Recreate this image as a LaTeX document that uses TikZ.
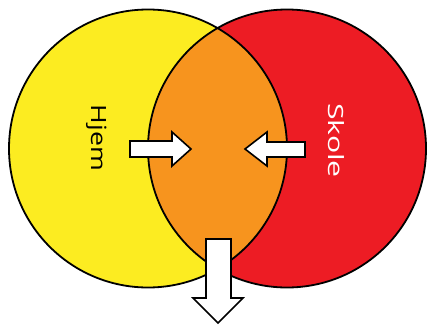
\documentclass[tikz,border=0pt]{standalone}
\usepackage{fontspec}
\setmainfont{Open Sans}
\definecolor{venyellow}{HTML}{FCEC21}
\definecolor{venred}{HTML}{ED1C24}
\definecolor{venorange}{HTML}{F7941E}
\begin{document}
\begin{tikzpicture}[x=1pt,y=-1pt,
  outline/.style={draw=black,line width=1.8pt},
  blockarrow/.style={fill=white,draw=black,line width=1.6pt,line join=miter},
  vlabel/.style={font=\fontsize{21}{21}\selectfont,rotate=-90,anchor=base,inner sep=0pt}]
\useasboundingbox (0,0) rectangle (427,324);
\coordinate (L) at (148,148.5);
\coordinate (R) at (287,148.5);
\fill[venyellow] (L) circle[radius=139];
\fill[venred] (R) circle[radius=139];
\begin{scope}
  \clip (L) circle[radius=139];
  \fill[venorange] (R) circle[radius=139];
\end{scope}
\draw[outline] (L) circle[radius=139] (R) circle[radius=139];
% arrows
\draw[blockarrow] (130,141) -- (172,141) -- (172,132) -- (191,149) -- (172,166) -- (172,157) -- (130,157) -- cycle;
\draw[blockarrow] (305,142) -- (267,142) -- (267,132) -- (245,149) -- (267,166) -- (267,157) -- (305,157) -- cycle;
\draw[blockarrow] (206,239) -- (231,239) -- (231,298) -- (243,298) -- (218,323) -- (193,298) -- (206,298) -- cycle;
% labels
\node[vlabel,xscale=1.27,text=black] (hjem) at (91,138) {Hjem};
\node[vlabel,xscale=1.44,text=white] (skole) at (328,140.5) {Skole};
\end{tikzpicture}
\end{document}
